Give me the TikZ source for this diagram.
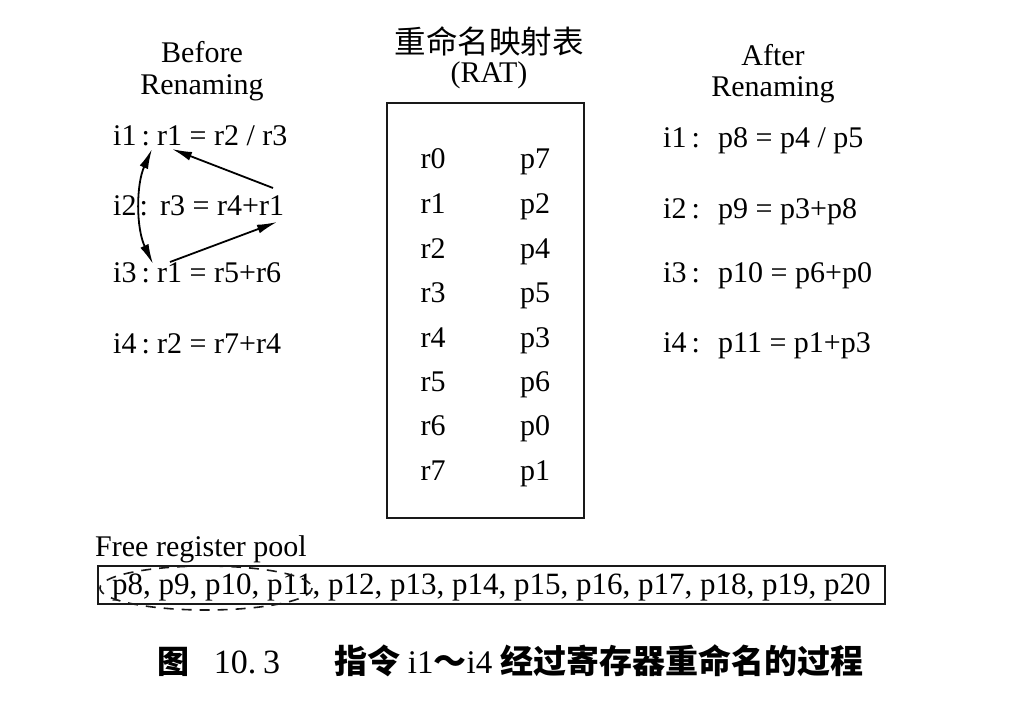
\documentclass[tikz,border=0pt]{standalone}
\usepackage{fontspec}
\setmainfont{Liberation Serif}
\newfontfamily\cjk{Noto Sans CJK SC}
\usetikzlibrary{arrows.meta}
\begin{document}
\begin{tikzpicture}[x=1pt,y=-1pt,
  txt/.style={font=\fontsize{30}{36}\selectfont, inner sep=0pt, text=black},
  frame/.style={draw=black!90, line width=2pt, inner sep=0pt},
  dep/.style={line width=1.8pt, draw=black, -{Latex[length=20pt,width=9pt]}},
  dep2/.style={line width=1.8pt, draw=black, {Latex[length=20pt,width=9pt]}-{Latex[length=20pt,width=9pt]}}]
\useasboundingbox (0,0) rectangle (1024,712);
% headings
\node[txt, anchor=base] (bef1) at (202,62) {Before};
\node[txt, anchor=base] (bef2) at (202,94) {Renaming};
\node[txt, anchor=base, font=\fontsize{31.5}{36}\selectfont] (rat1) at (489,53) {\cjk 重命名映射表};
\node[txt, anchor=base] (rat2) at (489,82) {(RAT)};
\node[txt, anchor=base] (aft1) at (773,65) {After};
\node[txt, anchor=base] (aft2) at (773,96) {Renaming};
% before
\node[txt, anchor=base west] (li1) at (113,145) {i1\hspace{5pt}:};
\node[txt, anchor=base west] (li2) at (113,215) {i2\hspace{3pt}:};
\node[txt, anchor=base west] (li3) at (113,282) {i3\hspace{5pt}:};
\node[txt, anchor=base west] (li4) at (113,353) {i4\hspace{5pt}:};
\node[txt, anchor=base west] (le1) at (157,145) {r1 = r2 / r3};
\node[txt, anchor=base west] (le2) at (160,215) {r3 = r4+r1};
\node[txt, anchor=base west] (le3) at (157,282) {r1 = r5+r6};
\node[txt, anchor=base west] (le4) at (157,353) {r2 = r7+r4};
% after
\node[txt, anchor=base west] (ri1) at (663,147) {i1\hspace{5pt}:};
\node[txt, anchor=base west] (ri2) at (663,218) {i2\hspace{5pt}:};
\node[txt, anchor=base west] (ri3) at (663,282) {i3\hspace{5pt}:};
\node[txt, anchor=base west] (ri4) at (663,352) {i4\hspace{5pt}:};
\node[txt, anchor=base west] (re1) at (718,147) {p8 = p4 / p5};
\node[txt, anchor=base west] (re2) at (718,218) {p9 = p3+p8};
\node[txt, anchor=base west] (re3) at (718,282) {p10 = p6+p0};
\node[txt, anchor=base west] (re4) at (718,352) {p11 = p1+p3};
% RAT box
\node[frame, minimum width=197pt, minimum height=415pt] (rat) at (485,310.5) {};
\foreach \r/\p/\y [count=\i] in {r0/p7/168, r1/p2/213, r2/p4/258, r3/p5/302, r4/p3/347, r5/p6/391, r6/p0/435, r7/p1/480}{
  \node[txt, anchor=base] (rr\i) at (433,\y) {\r};
  \node[txt, anchor=base] (rp\i) at (535,\y) {\p};
}
% dependence arrows
\coordinate (a1s) at (273,188);
\coordinate (a1e) at (172,149);
\coordinate (a2s) at (170,262);
\coordinate (a2e) at (277,222);
\coordinate (c1) at (152,149);
\coordinate (c2) at (153,264);
\draw[dep] (a1s) -- (a1e);
\draw[dep] (a2s) -- (a2e);
\draw[dep2] (c1) .. controls (136,185) and (136,228) .. (c2);
% free pool
\node[txt, anchor=base west] (freelbl) at (95,556) {Free register pool};
\node[frame, anchor=north west, minimum width=787pt, minimum height=38pt] (pool) at (97,565) {};
\node[txt, anchor=base west, font=\fontsize{31}{36}\selectfont] (pooltxt) at (112,594) {p8, p9, p10, p11, p12, p13, p14, p15, p16, p17, p18, p19, p20};
\draw[dashed, dash pattern=on 10pt off 8pt, line width=1.6pt, black!90] (206,588) ellipse [x radius=106, y radius=22];
% caption
\node[txt, anchor=base, font=\fontsize{32}{36}\selectfont] (cap0) at (173,673) {\cjk\bfseries 图};
\node[txt, anchor=base, font=\fontsize{34}{36}\selectfont] (cap1) at (247,673) {10.\hspace{7pt}3};
\node[txt, anchor=base, font=\fontsize{33}{36}\selectfont] (cap2) at (599,673) {\cjk\bfseries 指令 \rmfamily\mdseries i1\cjk\bfseries～\rmfamily\mdseries i4 \cjk\bfseries 经过寄存器重命名的过程};
\end{tikzpicture}
\end{document}
